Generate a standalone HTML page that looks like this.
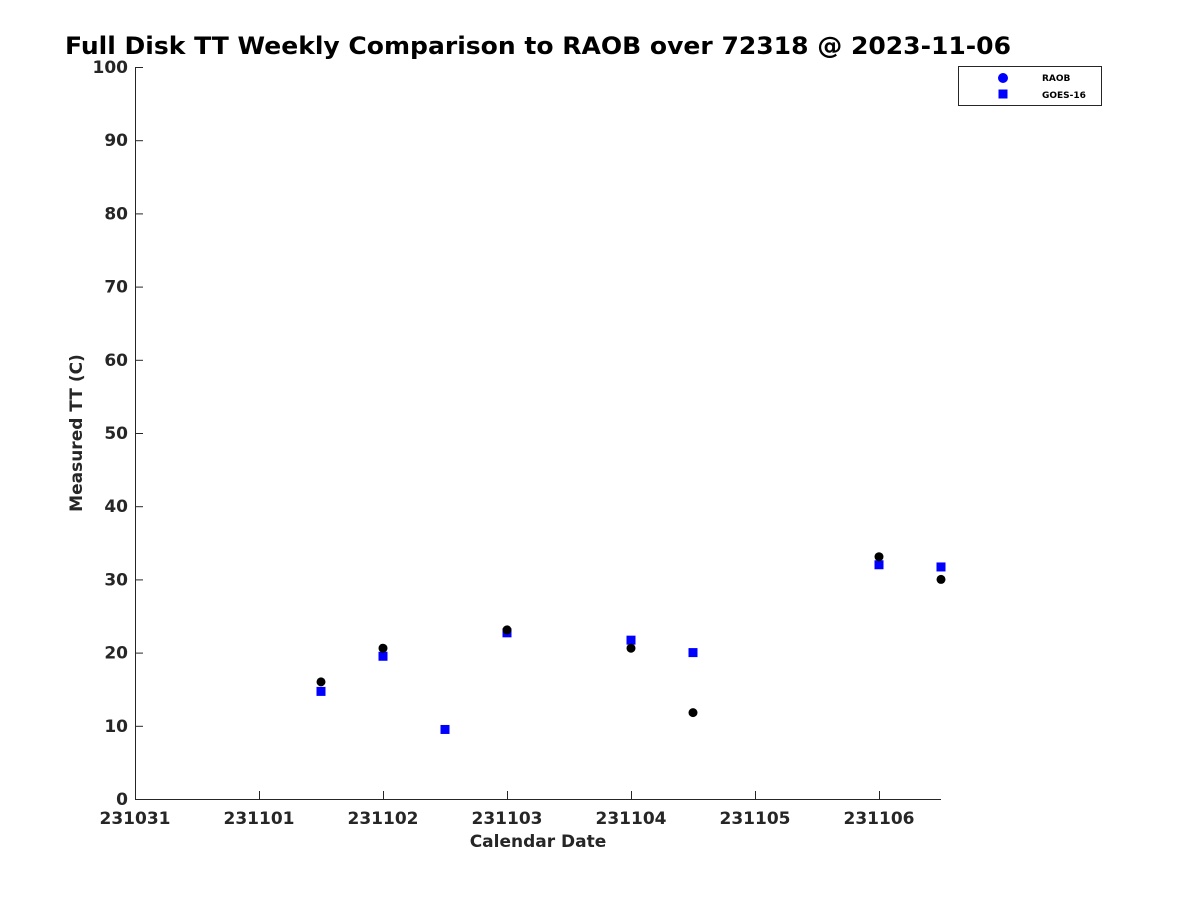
<!DOCTYPE html>
<html><head><meta charset="utf-8"><style>
body{margin:0;background:#fff;}
svg text{font-family:"DejaVu Sans","Liberation Sans",sans-serif;font-weight:bold;fill:#262626;}
</style></head><body>
<svg id="chart" width="1200" height="900" xmlns="http://www.w3.org/2000/svg">
<text x="65" y="54" font-size="24" textLength="946" lengthAdjust="spacingAndGlyphs" style="fill:#000">Full Disk TT Weekly Comparison to RAOB over 72318 @ 2023-11-06</text>
<g id="axes"></g>
<g id="marks"></g>
<g>
<rect x="958.5" y="66.5" width="143" height="39" fill="#fff" stroke="#262626" stroke-width="1"/>
<circle cx="1003" cy="78" r="5" fill="#0000ff"/>
<text x="1042" y="81" font-size="9" style="fill:#000">RAOB</text>
<rect x="998.5" y="89.5" width="9" height="9" fill="#0000ff"/>
<text x="1042" y="98" font-size="9" style="fill:#000">GOES-16</text>
</g>
</svg>
<script>
const xTickLabels=["231031","231101","231102","231103","231104","231105","231106"];
const yTicks=[0,10,20,30,40,50,60,70,80,90,100];
const raobDays=[1.5,2,3,4,4.5,6,6.5];
const raobValues=[16.0,20.6,23.1,20.6,11.8,33.1,30.0];
const goesDays=[1.5,2,2.5,3,4,4.5,6,6.5];
const goesValues=[14.7,19.5,9.5,22.7,21.7,20.0,32.0,31.7];
const NS="http://www.w3.org/2000/svg";
const X0=135,DX=124,XMAX=6.5,Y0=799,YTOP=67;
const xs=d=>X0+d*DX;
const ys=v=>Y0-(v/100)*(Y0-YTOP);
const axes=document.getElementById('axes'),marks=document.getElementById('marks');
function mk(tag,attrs,parent){const e=document.createElementNS(NS,tag);for(const k in attrs)e.setAttribute(k,attrs[k]);parent.appendChild(e);return e;}
let l=mk('line',{x1:X0,y1:Y0+0.5,x2:xs(XMAX),y2:Y0+0.5,stroke:'#262626'},axes);


l=mk('line',{x1:X0+0.5,y1:YTOP,x2:X0+0.5,y2:Y0,stroke:'#262626'},axes);


xTickLabels.forEach((t,i)=>{
  const x=xs(i)+0.5;
  mk('line',{x1:x,y1:Y0,x2:x,y2:Y0-8,stroke:'#262626'},axes);
  const tx=mk('text',{x:xs(i),y:Y0+25,'text-anchor':'middle','font-size':'17'},axes);
  tx.textContent=t;
  
  
});
yTicks.forEach(v=>{
  const y=ys(v)+0.5;
  mk('line',{x1:X0,y1:y,x2:X0+8,y2:y,stroke:'#262626'},axes);
  const tx=mk('text',{x:X0-7,y:ys(v)+6,'text-anchor':'end','font-size':'17'},axes);
  tx.textContent=v;
  
  
});
let t=mk('text',{x:538,y:847,'text-anchor':'middle','font-size':'17'},axes);
t.textContent='Calendar Date';


t=mk('text',{x:0,y:0,'text-anchor':'middle','font-size':'17',transform:'translate(82,433) rotate(-90)'},axes);
t.textContent='Measured TT (C)';


goesDays.forEach((d,i)=>{
  const r=mk('rect',{x:xs(d)-4.5,y:ys(goesValues[i])-4.5,width:9,height:9,fill:'#0000ff'},marks);
  
  
});
raobDays.forEach((d,i)=>{
  const c=mk('circle',{cx:xs(d),cy:ys(raobValues[i]),r:4.5,fill:'#000'},marks);
  
  
});
</script>
</body></html>
